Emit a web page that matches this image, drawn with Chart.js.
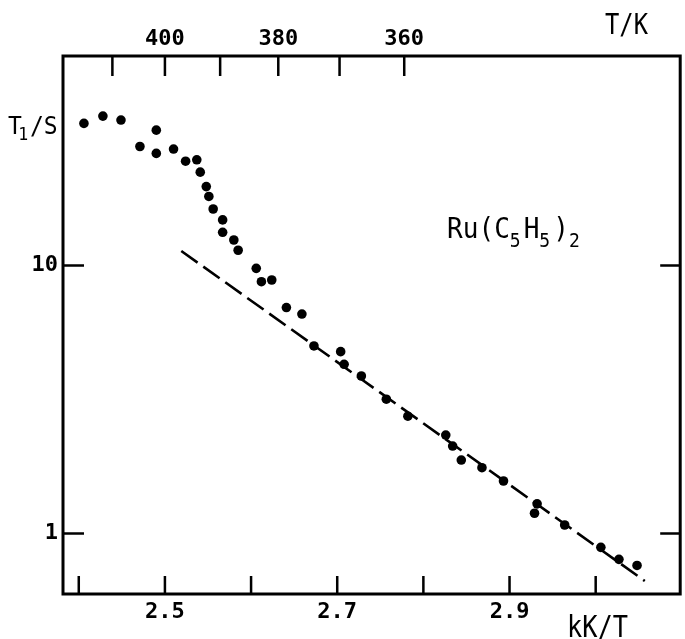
<!DOCTYPE html>
<html><head><meta charset="utf-8">
<script src="https://cdn.jsdelivr.net/npm/chart.js@4.4.1/dist/chart.umd.min.js"></script>
<style>html,body{margin:0;padding:0;background:#fff;}#wrap{width:685px;height:639px;}</style>
</head><body><div id="wrap"><canvas id="c" width="685" height="639"></canvas></div>
<script>
// ---- data ----
const xInvT = [2.406, 2.428, 2.449, 2.471, 2.490, 2.490, 2.510, 2.524, 2.537, 2.541,
               2.548, 2.551, 2.556, 2.567, 2.567, 2.580, 2.585, 2.606, 2.612, 2.624,
               2.641, 2.659, 2.673, 2.704, 2.708, 2.728, 2.757, 2.782, 2.826, 2.834,
               2.844, 2.868, 2.893, 2.932, 2.929, 2.964, 3.006, 3.027, 3.048];
const t1Values = [33.9, 36.1, 34.9, 27.8, 32.0, 26.2, 27.2, 24.5, 24.8, 22.3,
                  19.7, 18.1, 16.25, 14.8, 13.3, 12.45, 11.4, 9.76, 8.70, 8.83,
                  6.97, 6.59, 5.01, 4.77, 4.28, 3.87, 3.17, 2.74, 2.33, 2.12,
                  1.88, 1.76, 1.57, 1.29, 1.19, 1.076, 0.888, 0.801, 0.760];
const fitX = [2.519, 3.057];
const fitY = [11.33, 0.665];
const bottomTicks = [2.4, 2.5, 2.6, 2.7, 2.8, 2.9, 3.0];
const bottomLabels = [2.5, 2.7, 2.9];
const topTempTicks = [410, 400, 390, 380, 370, 360];
const topTempLabels = [400, 380, 360];
const yTicks = [1, 10];
const yLabels = ["1", "10"];
const xRange = [2.3817, 3.0981];
const yRange = [0.5947, 60.5];
const compoundParts = [["Ru(C",0],["5",1],["H",0],["5",1],[")",0],["2",1]];
const xTitle = "kK/T";
const topTitle = "T/K";
const yTitleMain = "T", yTitleSub = "1", yTitleRest = "/S";

const MONO = '"DejaVu Sans Mono", monospace';

const annot = {
  id: 'annot',
  afterDraw(chart) {
    const {ctx, chartArea: a, scales} = chart;
    ctx.save();
    ctx.strokeStyle = '#000';
    ctx.fillStyle = '#000';
    ctx.lineWidth = 3;
    ctx.strokeRect(a.left, a.top, a.right - a.left, a.bottom - a.top);
    ctx.lineWidth = 2.5;
    ctx.beginPath();
    scales.x.ticks.forEach(t => { const p = scales.x.getPixelForValue(t.value); ctx.moveTo(p, a.bottom); ctx.lineTo(p, a.bottom - 18); });
    scales.x2.ticks.forEach(t => { const p = scales.x2.getPixelForValue(t.value); ctx.moveTo(p, a.top); ctx.lineTo(p, a.top + 20); });
    scales.y.ticks.forEach(t => { const p = scales.y.getPixelForValue(t.value);
      ctx.moveTo(a.left, p); ctx.lineTo(a.left + 21, p);
      ctx.moveTo(a.right, p); ctx.lineTo(a.right - 20, p); });
    ctx.stroke();

    ctx.textBaseline = 'alphabetic';
    ctx.textAlign = 'left';
    // compound label
    ctx.save();
    ctx.translate(447, 238);
    ctx.scale(0.9, 1);
    let cx = 0;
    compoundParts.forEach(([txt, sub]) => {
      ctx.font = (sub ? 20 : 29) + 'px ' + MONO;
      ctx.fillText(txt, cx, sub ? 8.5 : 0);
      cx += ctx.measureText(txt).width + (sub ? 3.3 : 0);
    });
    ctx.restore();
    // x title
    ctx.save();
    ctx.translate(567, 637); ctx.scale(0.845, 1);
    ctx.font = '30px ' + MONO; ctx.fillText(xTitle, 0, 0);
    ctx.restore();
    // top title
    ctx.save();
    ctx.translate(605, 34); ctx.scale(0.82, 1);
    ctx.font = '29px ' + MONO; ctx.fillText(topTitle, 0, 0);
    ctx.restore();
    // y title
    ctx.save();
    ctx.translate(8, 134); ctx.scale(0.92, 1);
    ctx.font = '25px ' + MONO;
    ctx.fillText(yTitleMain, 0, 0);
    let yx = ctx.measureText(yTitleMain).width - 4;
    ctx.font = '18px ' + MONO;
    ctx.fillText(yTitleSub, yx, 6);
    yx += ctx.measureText(yTitleSub).width + 2;
    ctx.font = '25px ' + MONO;
    ctx.fillText(yTitleRest, yx, 0);
    ctx.restore();
    ctx.restore();
  }
};

const near = (a, b) => Math.abs(a - b) < 1e-6;
const tickFont = { family: MONO, size: 22, weight: 'bold' };

new Chart(document.getElementById('c'), {
  type: 'scatter',
  data: {
    datasets: [
      { data: fitX.map((x, i) => ({x, y: fitY[i]})), showLine: true, borderColor: '#000',
        borderWidth: 2.6, borderDash: [20, 7], pointRadius: 0, fill: false },
      { data: xInvT.map((x, i) => ({x, y: t1Values[i]})), showLine: false, pointRadius: 4.8,
        pointBackgroundColor: '#000', pointBorderWidth: 0, backgroundColor: '#000' }
    ]
  },
  options: {
    responsive: false, animation: false, devicePixelRatio: 1,
    layout: { padding: { left: 0, right: 3, top: 0, bottom: 0 } },
    plugins: { legend: { display: false }, tooltip: { enabled: false } },
    scales: {
      x: {
        type: 'linear', position: 'bottom', min: xRange[0], max: xRange[1],
        afterBuildTicks: s => { s.ticks = bottomTicks.map(v => ({value: v})); },
        afterFit: s => { s.height = 45; },
        grid: { display: false, drawTicks: false }, border: { display: false },
        ticks: { autoSkip: false, maxRotation: 0, padding: 5, color: '#000', font: tickFont,
          callback: v => bottomLabels.some(l => near(l, v)) ? v.toFixed(1) : '' }
      },
      x2: {
        type: 'linear', position: 'top', min: xRange[0], max: xRange[1],
        afterBuildTicks: s => { s.ticks = topTempTicks.map(T => ({value: 1000 / T})); },
        afterFit: s => { s.height = 56; },
        grid: { display: false, drawTicks: false }, border: { display: false },
        ticks: { autoSkip: false, maxRotation: 0, padding: 4, color: '#000', font: tickFont,
          callback: v => { const T = Math.round(1000 / v); return topTempLabels.includes(T) ? String(T) : ''; } }
      },
      y: {
        type: 'logarithmic', position: 'left', min: yRange[0], max: yRange[1],
        afterBuildTicks: s => { s.ticks = yTicks.map(v => ({value: v})); },
        afterFit: s => { s.width = 63; },
        grid: { display: false, drawTicks: false }, border: { display: false },
        ticks: { autoSkip: false, padding: 5, color: '#000', font: tickFont,
          callback: v => { const i = yTicks.findIndex(t => near(t, v)); return i >= 0 ? yLabels[i] : ''; } }
      }
    }
  },
  plugins: [annot]
});
</script>
</body></html>
